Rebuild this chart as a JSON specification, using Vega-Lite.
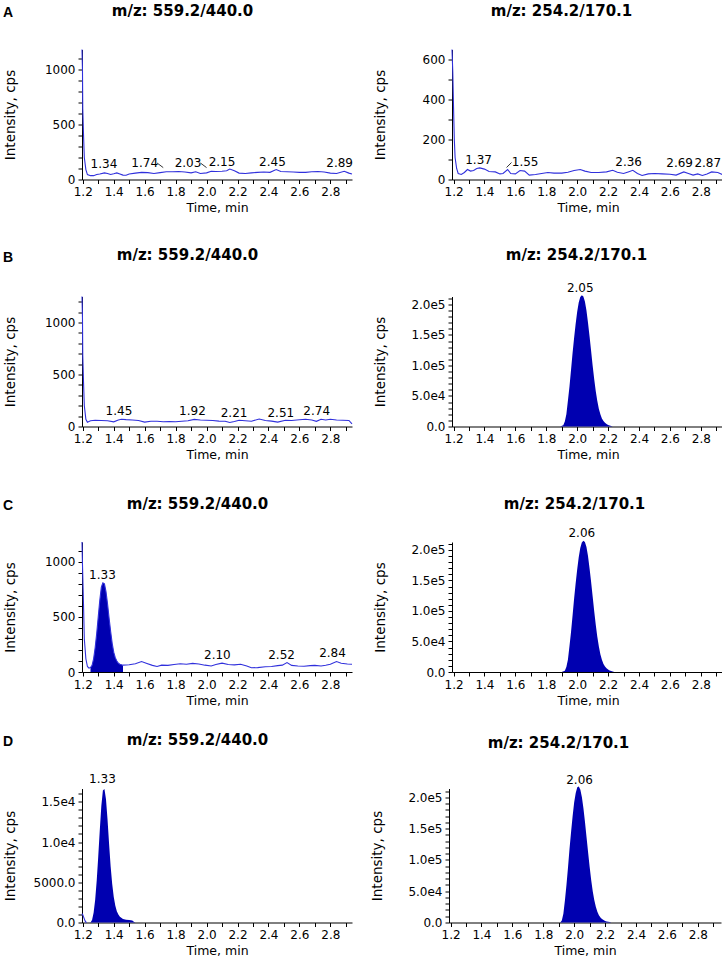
{
  "$schema": "https://vega.github.io/schema/vega-lite/v6.json",
  "padding": {"left": 3, "top": 2.5, "right": 0, "bottom": 0},
  "background": "white",
  "config": {
    "view": {"stroke": null},
    "axis": {"grid": false, "labelFont": "DejaVu Sans", "labelFontSize": 12, "labelColor": "#000", "titleFont": "DejaVu Sans", "titleFontWeight": "normal", "titleColor": "#000", "domainColor": "#000", "tickColor": "#000", "tickSize": 4, "labelPadding": 3, "labelOverlap": false, "labelFlush": false},
    "axisY": {"minExtent": 52, "maxExtent": 52, "titlePadding": 13, "titleFontSize": 13.5},
    "axisBottom": {"titleFontSize": 12.5, "titlePadding": 4},
    "axisTop": {"labels": false, "ticks": false, "domain": false, "titleFontSize": 15, "titleFontWeight": "bold", "minExtent": 0, "maxExtent": 0},
    "title": {"font": "Liberation Sans", "fontSize": 14, "fontWeight": "bold", "anchor": "start", "baseline": "bottom", "color": "#000"},
    "text": {"font": "DejaVu Sans", "fontSize": 12, "color": "#000"}
  },
  "datasets": {
    "line": [
      {"p":"A1","t":1.195,"v":1180},{"p":"A1","t":1.198,"v":1000},{"p":"A1","t":1.2,"v":640},{"p":"A1","t":1.205,"v":400},{"p":"A1","t":1.21,"v":200},{"p":"A1","t":1.22,"v":90},{"p":"A1","t":1.23,"v":45},{"p":"A1","t":1.25,"v":35},{"p":"A1","t":1.27,"v":35},{"p":"A1","t":1.29,"v":45},{"p":"A1","t":1.31,"v":50},{"p":"A1","t":1.34,"v":60},{"p":"A1","t":1.36,"v":55},{"p":"A1","t":1.38,"v":45},{"p":"A1","t":1.4,"v":52},{"p":"A1","t":1.42,"v":60},{"p":"A1","t":1.44,"v":50},{"p":"A1","t":1.46,"v":40},{"p":"A1","t":1.48,"v":38},{"p":"A1","t":1.5,"v":50},{"p":"A1","t":1.54,"v":58},{"p":"A1","t":1.58,"v":65},{"p":"A1","t":1.62,"v":62},{"p":"A1","t":1.66,"v":55},{"p":"A1","t":1.7,"v":62},{"p":"A1","t":1.74,"v":70},{"p":"A1","t":1.78,"v":70},{"p":"A1","t":1.82,"v":72},{"p":"A1","t":1.86,"v":68},{"p":"A1","t":1.9,"v":60},{"p":"A1","t":1.93,"v":70},{"p":"A1","t":1.96,"v":55},{"p":"A1","t":2.0,"v":60},{"p":"A1","t":2.03,"v":75},{"p":"A1","t":2.06,"v":72},{"p":"A1","t":2.1,"v":75},{"p":"A1","t":2.13,"v":80},{"p":"A1","t":2.15,"v":95},{"p":"A1","t":2.18,"v":80},{"p":"A1","t":2.21,"v":58},{"p":"A1","t":2.25,"v":55},{"p":"A1","t":2.29,"v":60},{"p":"A1","t":2.33,"v":65},{"p":"A1","t":2.37,"v":68},{"p":"A1","t":2.41,"v":65},{"p":"A1","t":2.45,"v":90},{"p":"A1","t":2.48,"v":72},{"p":"A1","t":2.52,"v":70},{"p":"A1","t":2.56,"v":68},{"p":"A1","t":2.6,"v":65},{"p":"A1","t":2.64,"v":65},{"p":"A1","t":2.68,"v":70},{"p":"A1","t":2.72,"v":72},{"p":"A1","t":2.76,"v":68},{"p":"A1","t":2.8,"v":58},{"p":"A1","t":2.84,"v":55},{"p":"A1","t":2.89,"v":75},{"p":"A1","t":2.92,"v":58},{"p":"A1","t":2.94,"v":50},
      {"p":"A2","t":1.19,"v":650},{"p":"A2","t":1.195,"v":540},{"p":"A2","t":1.2,"v":360},{"p":"A2","t":1.205,"v":200},{"p":"A2","t":1.21,"v":110},{"p":"A2","t":1.22,"v":55},{"p":"A2","t":1.23,"v":30},{"p":"A2","t":1.25,"v":25},{"p":"A2","t":1.27,"v":35},{"p":"A2","t":1.29,"v":50},{"p":"A2","t":1.31,"v":42},{"p":"A2","t":1.33,"v":45},{"p":"A2","t":1.35,"v":55},{"p":"A2","t":1.37,"v":58},{"p":"A2","t":1.4,"v":52},{"p":"A2","t":1.43,"v":40},{"p":"A2","t":1.47,"v":38},{"p":"A2","t":1.5,"v":28},{"p":"A2","t":1.52,"v":30},{"p":"A2","t":1.55,"v":50},{"p":"A2","t":1.57,"v":30},{"p":"A2","t":1.6,"v":28},{"p":"A2","t":1.63,"v":45},{"p":"A2","t":1.66,"v":42},{"p":"A2","t":1.69,"v":22},{"p":"A2","t":1.73,"v":25},{"p":"A2","t":1.77,"v":30},{"p":"A2","t":1.81,"v":35},{"p":"A2","t":1.85,"v":32},{"p":"A2","t":1.9,"v":32},{"p":"A2","t":1.94,"v":36},{"p":"A2","t":1.98,"v":45},{"p":"A2","t":2.02,"v":50},{"p":"A2","t":2.05,"v":42},{"p":"A2","t":2.09,"v":35},{"p":"A2","t":2.14,"v":35},{"p":"A2","t":2.19,"v":38},{"p":"A2","t":2.23,"v":46},{"p":"A2","t":2.26,"v":36},{"p":"A2","t":2.3,"v":30},{"p":"A2","t":2.33,"v":38},{"p":"A2","t":2.36,"v":46},{"p":"A2","t":2.39,"v":30},{"p":"A2","t":2.42,"v":20},{"p":"A2","t":2.46,"v":28},{"p":"A2","t":2.5,"v":30},{"p":"A2","t":2.55,"v":28},{"p":"A2","t":2.6,"v":26},{"p":"A2","t":2.64,"v":22},{"p":"A2","t":2.69,"v":38},{"p":"A2","t":2.72,"v":30},{"p":"A2","t":2.75,"v":22},{"p":"A2","t":2.78,"v":28},{"p":"A2","t":2.81,"v":20},{"p":"A2","t":2.84,"v":28},{"p":"A2","t":2.87,"v":38},{"p":"A2","t":2.91,"v":35},{"p":"A2","t":2.94,"v":25},{"p":"A2","t":2.95,"v":15},
      {"p":"B1","t":1.195,"v":1250},{"p":"B1","t":1.198,"v":1050},{"p":"B1","t":1.2,"v":680},{"p":"B1","t":1.205,"v":420},{"p":"B1","t":1.21,"v":200},{"p":"B1","t":1.22,"v":70},{"p":"B1","t":1.23,"v":40},{"p":"B1","t":1.25,"v":55},{"p":"B1","t":1.28,"v":60},{"p":"B1","t":1.32,"v":58},{"p":"B1","t":1.36,"v":55},{"p":"B1","t":1.4,"v":45},{"p":"B1","t":1.43,"v":62},{"p":"B1","t":1.45,"v":70},{"p":"B1","t":1.48,"v":66},{"p":"B1","t":1.52,"v":62},{"p":"B1","t":1.56,"v":58},{"p":"B1","t":1.6,"v":42},{"p":"B1","t":1.64,"v":50},{"p":"B1","t":1.68,"v":50},{"p":"B1","t":1.72,"v":46},{"p":"B1","t":1.76,"v":48},{"p":"B1","t":1.8,"v":45},{"p":"B1","t":1.84,"v":50},{"p":"B1","t":1.88,"v":55},{"p":"B1","t":1.92,"v":68},{"p":"B1","t":1.96,"v":62},{"p":"B1","t":2.0,"v":60},{"p":"B1","t":2.04,"v":58},{"p":"B1","t":2.08,"v":52},{"p":"B1","t":2.12,"v":50},{"p":"B1","t":2.15,"v":38},{"p":"B1","t":2.18,"v":48},{"p":"B1","t":2.21,"v":60},{"p":"B1","t":2.25,"v":55},{"p":"B1","t":2.29,"v":50},{"p":"B1","t":2.34,"v":72},{"p":"B1","t":2.38,"v":58},{"p":"B1","t":2.42,"v":52},{"p":"B1","t":2.46,"v":42},{"p":"B1","t":2.51,"v":60},{"p":"B1","t":2.55,"v":58},{"p":"B1","t":2.6,"v":65},{"p":"B1","t":2.64,"v":70},{"p":"B1","t":2.68,"v":62},{"p":"B1","t":2.71,"v":50},{"p":"B1","t":2.74,"v":70},{"p":"B1","t":2.77,"v":62},{"p":"B1","t":2.8,"v":70},{"p":"B1","t":2.84,"v":62},{"p":"B1","t":2.88,"v":60},{"p":"B1","t":2.92,"v":58},{"p":"B1","t":2.94,"v":25},
      {"p":"C1","t":1.195,"v":1180},{"p":"C1","t":1.198,"v":980},{"p":"C1","t":1.205,"v":600},{"p":"C1","t":1.21,"v":300},{"p":"C1","t":1.22,"v":120},{"p":"C1","t":1.23,"v":50},{"p":"C1","t":1.24,"v":35},{"p":"C1","t":1.25,"v":40},{"p":"C1","t":1.26,"v":60},{"p":"C1","t":1.27,"v":120},{"p":"C1","t":1.28,"v":220},{"p":"C1","t":1.29,"v":350},{"p":"C1","t":1.3,"v":500},{"p":"C1","t":1.31,"v":650},{"p":"C1","t":1.32,"v":770},{"p":"C1","t":1.33,"v":810},{"p":"C1","t":1.34,"v":800},{"p":"C1","t":1.35,"v":730},{"p":"C1","t":1.36,"v":620},{"p":"C1","t":1.37,"v":490},{"p":"C1","t":1.38,"v":370},{"p":"C1","t":1.39,"v":260},{"p":"C1","t":1.4,"v":180},{"p":"C1","t":1.41,"v":130},{"p":"C1","t":1.42,"v":100},{"p":"C1","t":1.43,"v":80},{"p":"C1","t":1.44,"v":70},{"p":"C1","t":1.46,"v":62},{"p":"C1","t":1.5,"v":66},{"p":"C1","t":1.54,"v":75},{"p":"C1","t":1.58,"v":95},{"p":"C1","t":1.61,"v":80},{"p":"C1","t":1.65,"v":60},{"p":"C1","t":1.68,"v":50},{"p":"C1","t":1.71,"v":62},{"p":"C1","t":1.75,"v":60},{"p":"C1","t":1.79,"v":68},{"p":"C1","t":1.83,"v":75},{"p":"C1","t":1.87,"v":70},{"p":"C1","t":1.91,"v":78},{"p":"C1","t":1.95,"v":72},{"p":"C1","t":1.99,"v":62},{"p":"C1","t":2.03,"v":55},{"p":"C1","t":2.06,"v":68},{"p":"C1","t":2.1,"v":80},{"p":"C1","t":2.14,"v":68},{"p":"C1","t":2.18,"v":65},{"p":"C1","t":2.22,"v":70},{"p":"C1","t":2.26,"v":55},{"p":"C1","t":2.29,"v":38},{"p":"C1","t":2.33,"v":40},{"p":"C1","t":2.38,"v":48},{"p":"C1","t":2.42,"v":50},{"p":"C1","t":2.46,"v":58},{"p":"C1","t":2.49,"v":62},{"p":"C1","t":2.52,"v":85},{"p":"C1","t":2.55,"v":60},{"p":"C1","t":2.59,"v":55},{"p":"C1","t":2.63,"v":52},{"p":"C1","t":2.67,"v":58},{"p":"C1","t":2.7,"v":60},{"p":"C1","t":2.74,"v":55},{"p":"C1","t":2.77,"v":62},{"p":"C1","t":2.8,"v":70},{"p":"C1","t":2.84,"v":95},{"p":"C1","t":2.87,"v":80},{"p":"C1","t":2.91,"v":72},{"p":"C1","t":2.94,"v":70},
      {"p":"D1","t":1.195,"v":1100},{"p":"D1","t":1.2,"v":950},{"p":"D1","t":1.205,"v":700},{"p":"D1","t":1.21,"v":450},{"p":"D1","t":1.215,"v":200},{"p":"D1","t":1.22,"v":60},{"p":"D1","t":1.225,"v":0}
    ],
    "fill": [
      {"p":"C1","t":1.25,"v":40},{"p":"C1","t":1.26,"v":60},{"p":"C1","t":1.27,"v":120},{"p":"C1","t":1.28,"v":220},{"p":"C1","t":1.29,"v":350},{"p":"C1","t":1.3,"v":500},{"p":"C1","t":1.31,"v":650},{"p":"C1","t":1.32,"v":770},{"p":"C1","t":1.33,"v":810},{"p":"C1","t":1.34,"v":800},{"p":"C1","t":1.35,"v":730},{"p":"C1","t":1.36,"v":620},{"p":"C1","t":1.37,"v":490},{"p":"C1","t":1.38,"v":370},{"p":"C1","t":1.39,"v":260},{"p":"C1","t":1.4,"v":180},{"p":"C1","t":1.41,"v":130},{"p":"C1","t":1.42,"v":100},{"p":"C1","t":1.43,"v":80},{"p":"C1","t":1.44,"v":70},{"p":"C1","t":1.45,"v":65},{"p":"C1","t":1.46,"v":60},
      {"p":"D1","t":1.25,"v":0},{"p":"D1","t":1.26,"v":300},{"p":"D1","t":1.27,"v":1200},{"p":"D1","t":1.28,"v":2800},{"p":"D1","t":1.29,"v":5200},{"p":"D1","t":1.3,"v":8200},{"p":"D1","t":1.31,"v":11500},{"p":"D1","t":1.32,"v":14500},{"p":"D1","t":1.33,"v":16400},{"p":"D1","t":1.34,"v":16600},{"p":"D1","t":1.35,"v":15300},{"p":"D1","t":1.36,"v":12800},{"p":"D1","t":1.37,"v":9800},{"p":"D1","t":1.38,"v":7000},{"p":"D1","t":1.39,"v":4800},{"p":"D1","t":1.4,"v":3200},{"p":"D1","t":1.41,"v":2100},{"p":"D1","t":1.42,"v":1400},{"p":"D1","t":1.43,"v":1000},{"p":"D1","t":1.44,"v":700},{"p":"D1","t":1.46,"v":450},{"p":"D1","t":1.48,"v":350},{"p":"D1","t":1.5,"v":300},{"p":"D1","t":1.52,"v":250},{"p":"D1","t":1.53,"v":100},{"p":"D1","t":1.54,"v":0},
      {"p":"B2","t":1.89,"v":0},{"p":"B2","t":1.91,"v":2000},{"p":"B2","t":1.92,"v":8000},{"p":"B2","t":1.93,"v":20000},{"p":"B2","t":1.94,"v":42000},{"p":"B2","t":1.95,"v":65000},{"p":"B2","t":1.96,"v":92000},{"p":"B2","t":1.97,"v":120000},{"p":"B2","t":1.98,"v":145000},{"p":"B2","t":1.99,"v":168000},{"p":"B2","t":2.0,"v":188000},{"p":"B2","t":2.01,"v":203000},{"p":"B2","t":2.02,"v":212000},{"p":"B2","t":2.03,"v":215000},{"p":"B2","t":2.04,"v":213000},{"p":"B2","t":2.05,"v":205000},{"p":"B2","t":2.06,"v":190000},{"p":"B2","t":2.07,"v":170000},{"p":"B2","t":2.08,"v":148000},{"p":"B2","t":2.09,"v":124000},{"p":"B2","t":2.1,"v":100000},{"p":"B2","t":2.11,"v":78000},{"p":"B2","t":2.12,"v":58000},{"p":"B2","t":2.13,"v":42000},{"p":"B2","t":2.14,"v":29000},{"p":"B2","t":2.15,"v":20000},{"p":"B2","t":2.16,"v":13000},{"p":"B2","t":2.17,"v":9000},{"p":"B2","t":2.18,"v":6000},{"p":"B2","t":2.19,"v":4000},{"p":"B2","t":2.2,"v":2500},{"p":"B2","t":2.21,"v":1500},{"p":"B2","t":2.22,"v":800},{"p":"B2","t":2.23,"v":0},
      {"p":"C2","t":1.9,"v":0},{"p":"C2","t":1.92,"v":2000},{"p":"C2","t":1.93,"v":8000},{"p":"C2","t":1.94,"v":20000},{"p":"C2","t":1.95,"v":42000},{"p":"C2","t":1.96,"v":65000},{"p":"C2","t":1.97,"v":92000},{"p":"C2","t":1.98,"v":120000},{"p":"C2","t":1.99,"v":145000},{"p":"C2","t":2.0,"v":168000},{"p":"C2","t":2.01,"v":188000},{"p":"C2","t":2.02,"v":203000},{"p":"C2","t":2.03,"v":212000},{"p":"C2","t":2.04,"v":215000},{"p":"C2","t":2.05,"v":213000},{"p":"C2","t":2.06,"v":205000},{"p":"C2","t":2.07,"v":190000},{"p":"C2","t":2.08,"v":170000},{"p":"C2","t":2.09,"v":148000},{"p":"C2","t":2.1,"v":124000},{"p":"C2","t":2.11,"v":100000},{"p":"C2","t":2.12,"v":78000},{"p":"C2","t":2.13,"v":58000},{"p":"C2","t":2.14,"v":42000},{"p":"C2","t":2.15,"v":29000},{"p":"C2","t":2.16,"v":20000},{"p":"C2","t":2.17,"v":13000},{"p":"C2","t":2.18,"v":9000},{"p":"C2","t":2.19,"v":6000},{"p":"C2","t":2.2,"v":4000},{"p":"C2","t":2.21,"v":2500},{"p":"C2","t":2.22,"v":1500},{"p":"C2","t":2.23,"v":800},{"p":"C2","t":2.24,"v":0},
      {"p":"D2","t":1.91,"v":0},{"p":"D2","t":1.92,"v":3000},{"p":"D2","t":1.93,"v":14000},{"p":"D2","t":1.94,"v":35000},{"p":"D2","t":1.95,"v":60000},{"p":"D2","t":1.96,"v":88000},{"p":"D2","t":1.97,"v":118000},{"p":"D2","t":1.98,"v":145000},{"p":"D2","t":1.99,"v":170000},{"p":"D2","t":2.0,"v":192000},{"p":"D2","t":2.01,"v":207000},{"p":"D2","t":2.02,"v":216000},{"p":"D2","t":2.03,"v":217000},{"p":"D2","t":2.04,"v":212000},{"p":"D2","t":2.05,"v":200000},{"p":"D2","t":2.06,"v":182000},{"p":"D2","t":2.07,"v":160000},{"p":"D2","t":2.08,"v":136000},{"p":"D2","t":2.09,"v":112000},{"p":"D2","t":2.1,"v":89000},{"p":"D2","t":2.11,"v":68000},{"p":"D2","t":2.12,"v":50000},{"p":"D2","t":2.13,"v":36000},{"p":"D2","t":2.14,"v":25000},{"p":"D2","t":2.15,"v":17000},{"p":"D2","t":2.16,"v":11500},{"p":"D2","t":2.17,"v":8000},{"p":"D2","t":2.18,"v":5500},{"p":"D2","t":2.19,"v":3800},{"p":"D2","t":2.2,"v":2500},{"p":"D2","t":2.21,"v":1700},{"p":"D2","t":2.22,"v":1100},{"p":"D2","t":2.23,"v":600},{"p":"D2","t":2.24,"v":0}
    ],
    "lab": [
      {"p":"A1","t":1.337,"v":102,"s":"1.34"},{"p":"A1","t":1.6,"v":113,"s":"1.74"},{"p":"A1","t":1.88,"v":113,"s":"2.03"},{"p":"A1","t":2.1,"v":125,"s":"2.15"},{"p":"A1","t":2.426,"v":125,"s":"2.45"},{"p":"A1","t":2.86,"v":111,"s":"2.89"},
      {"p":"A2","t":1.362,"v":78,"s":"1.37"},{"p":"A2","t":1.663,"v":69,"s":"1.55"},{"p":"A2","t":2.333,"v":69,"s":"2.36"},{"p":"A2","t":2.663,"v":61,"s":"2.69"},{"p":"A2","t":2.845,"v":61,"s":"2.87"},
      {"p":"B1","t":1.434,"v":114,"s":"1.45"},{"p":"B1","t":1.909,"v":114,"s":"1.92"},{"p":"B1","t":2.178,"v":91,"s":"2.21"},{"p":"B1","t":2.48,"v":91,"s":"2.51"},{"p":"B1","t":2.712,"v":114,"s":"2.74"},
      {"p":"B2","t":2.02,"v":220000,"s":"2.05"},
      {"p":"C1","t":1.327,"v":846,"s":"1.33"},{"p":"C1","t":2.07,"v":120,"s":"2.10"},{"p":"C1","t":2.485,"v":120,"s":"2.52"},{"p":"C1","t":2.814,"v":134,"s":"2.84"},
      {"p":"C2","t":2.03,"v":222000,"s":"2.06"},
      {"p":"D1","t":1.327,"v":17390,"s":"1.33"},
      {"p":"D2","t":2.035,"v":220700,"s":"2.06"}
    ],
    "lead": [
      {"p":"A1","t":1.68,"v":150,"t2":1.72,"v2":108},
      {"p":"A1","t":1.96,"v":150,"t2":2.0,"v2":108},
      {"p":"A2","t":1.543,"v":60,"t2":1.575,"v2":85}
    ]
  },
  "spacing": 33,
  "vconcat": [
    {
      "title": {"text": "A", "offset": -17},
      "spacing": 18,
      "hconcat": [
        {
          "width": 270, "height": 130,
          "encoding": {"y": {"field": "v", "type": "quantitative", "scale": {"domain": [0, 1180], "nice": false}, "axis": {"title": "Intensity, cps", "values": [0,100,200,300,400,500,600,700,800,900,1000,1100], "labelExpr": "datum.value % 500 == 0 ? format(datum.value, 'd') : ''"}}},
          "layer": [
            {"data": {"name": "fill"}, "transform": [{"filter": "datum.p == 'A1'"}], "mark": {"type": "area", "color": "#0000b0"}, "encoding": {"x": {"field": "t", "type": "quantitative", "scale": {"domain": [1.195, 2.94], "nice": false, "zero": false}, "axis": null}}},
            {"data": {"name": "line"}, "transform": [{"filter": "datum.p == 'A1'"}], "mark": {"type": "line", "color": "#3030dc", "strokeWidth": 1.1}, "encoding": {"x": {"field": "t", "type": "quantitative", "scale": {"domain": [1.195, 2.94], "nice": false, "zero": false}, "axis": {"title": "Time, min", "values": [1.2,1.3,1.4,1.5,1.6,1.7,1.8,1.9,2.0,2.1,2.2,2.3,2.4,2.5,2.6,2.7,2.8,2.9], "labelExpr": "round(datum.value * 10) % 2 == 0 ? format(datum.value, '.1f') : ''"}}}},
            {"data": {"name": "lead"}, "transform": [{"filter": "datum.p == 'A1'"}], "mark": {"type": "rule", "color": "#000", "strokeWidth": 0.8}, "encoding": {"x": {"field": "t", "type": "quantitative", "scale": {"domain": [1.195, 2.94], "nice": false, "zero": false}, "axis": null}, "x2": {"field": "t2"}, "y2": {"field": "v2"}}},
            {"data": {"name": "lab"}, "transform": [{"filter": "datum.p == 'A1'"}], "mark": {"type": "text", "baseline": "alphabetic"}, "encoding": {"x": {"field": "t", "type": "quantitative", "scale": {"domain": [1.195, 2.94], "nice": false, "zero": false}, "axis": {"orient": "top", "title": "m/z: 559.2/440.0", "titlePadding": 31.5, "titleX": 100}}, "text": {"field": "s"}}}
          ],
          "resolve": {"axis": {"x": "independent"}}
        },
        {
          "width": 272, "height": 130,
          "encoding": {"y": {"field": "v", "type": "quantitative", "scale": {"domain": [0, 650], "nice": false}, "axis": {"title": "Intensity, cps", "values": [0,100,200,300,400,500,600], "labelExpr": "datum.value % 200 == 0 ? format(datum.value, 'd') : ''"}}},
          "layer": [
            {"data": {"name": "fill"}, "transform": [{"filter": "datum.p == 'A2'"}], "mark": {"type": "area", "color": "#0000b0"}, "encoding": {"x": {"field": "t", "type": "quantitative", "scale": {"domain": [1.19, 2.95], "nice": false, "zero": false}, "axis": null}}},
            {"data": {"name": "line"}, "transform": [{"filter": "datum.p == 'A2'"}], "mark": {"type": "line", "color": "#3030dc", "strokeWidth": 1.1}, "encoding": {"x": {"field": "t", "type": "quantitative", "scale": {"domain": [1.19, 2.95], "nice": false, "zero": false}, "axis": {"title": "Time, min", "values": [1.2,1.3,1.4,1.5,1.6,1.7,1.8,1.9,2.0,2.1,2.2,2.3,2.4,2.5,2.6,2.7,2.8,2.9], "labelExpr": "round(datum.value * 10) % 2 == 0 ? format(datum.value, '.1f') : ''"}}}},
            {"data": {"name": "lead"}, "transform": [{"filter": "datum.p == 'A2'"}], "mark": {"type": "rule", "color": "#000", "strokeWidth": 0.8}, "encoding": {"x": {"field": "t", "type": "quantitative", "scale": {"domain": [1.19, 2.95], "nice": false, "zero": false}, "axis": null}, "x2": {"field": "t2"}, "y2": {"field": "v2"}}},
            {"data": {"name": "lab"}, "transform": [{"filter": "datum.p == 'A2'"}], "mark": {"type": "text", "baseline": "alphabetic"}, "encoding": {"x": {"field": "t", "type": "quantitative", "scale": {"domain": [1.19, 2.95], "nice": false, "zero": false}, "axis": {"orient": "top", "title": "m/z: 254.2/170.1", "titlePadding": 31.5, "titleX": 109}}, "text": {"field": "s"}}}
          ],
          "resolve": {"axis": {"x": "independent"}}
        }
      ]
    },
    {
      "spacing": 34.5,
      "vconcat": [
        {
          "title": {"text": "B", "offset": -17},
          "spacing": 18,
          "hconcat": [
            {
              "width": 270, "height": 130,
              "encoding": {"y": {"field": "v", "type": "quantitative", "scale": {"domain": [0, 1250], "nice": false}, "axis": {"title": "Intensity, cps", "values": [0,100,200,300,400,500,600,700,800,900,1000,1100,1200], "labelExpr": "datum.value % 500 == 0 ? format(datum.value, 'd') : ''"}}},
              "layer": [
                {"data": {"name": "fill"}, "transform": [{"filter": "datum.p == 'B1'"}], "mark": {"type": "area", "color": "#0000b0"}, "encoding": {"x": {"field": "t", "type": "quantitative", "scale": {"domain": [1.195, 2.94], "nice": false, "zero": false}, "axis": null}}},
                {"data": {"name": "line"}, "transform": [{"filter": "datum.p == 'B1'"}], "mark": {"type": "line", "color": "#3030dc", "strokeWidth": 1.1}, "encoding": {"x": {"field": "t", "type": "quantitative", "scale": {"domain": [1.195, 2.94], "nice": false, "zero": false}, "axis": {"title": "Time, min", "values": [1.2,1.3,1.4,1.5,1.6,1.7,1.8,1.9,2.0,2.1,2.2,2.3,2.4,2.5,2.6,2.7,2.8,2.9], "labelExpr": "round(datum.value * 10) % 2 == 0 ? format(datum.value, '.1f') : ''"}}}},
                {"data": {"name": "lab"}, "transform": [{"filter": "datum.p == 'B1'"}], "mark": {"type": "text", "baseline": "alphabetic"}, "encoding": {"x": {"field": "t", "type": "quantitative", "scale": {"domain": [1.195, 2.94], "nice": false, "zero": false}, "axis": {"orient": "top", "title": "m/z: 559.2/440.0", "titlePadding": 34, "titleX": 105}}, "text": {"field": "s"}}}
              ],
              "resolve": {"axis": {"x": "independent"}}
            },
            {
              "width": 272, "height": 130,
              "encoding": {"y": {"field": "v", "type": "quantitative", "scale": {"domain": [0, 213000], "nice": false}, "axis": {"title": "Intensity, cps", "values": [0,10000,20000,30000,40000,50000,60000,70000,80000,90000,100000,110000,120000,130000,140000,150000,160000,170000,180000,190000,200000,210000], "labelExpr": "datum.value % 50000 == 0 ? (datum.value == 0 ? '0.0' : replace(format(datum.value, '.1e'), 'e+', 'e')) : ''"}}},
              "layer": [
                {"data": {"name": "fill"}, "transform": [{"filter": "datum.p == 'B2'"}], "mark": {"type": "area", "color": "#0000b0"}, "encoding": {"x": {"field": "t", "type": "quantitative", "scale": {"domain": [1.19, 2.95], "nice": false, "zero": false}, "axis": null}}},
                {"data": {"name": "line"}, "transform": [{"filter": "datum.p == 'B2'"}], "mark": {"type": "line", "color": "#3030dc", "strokeWidth": 1.1}, "encoding": {"x": {"field": "t", "type": "quantitative", "scale": {"domain": [1.19, 2.95], "nice": false, "zero": false}, "axis": {"title": "Time, min", "values": [1.2,1.3,1.4,1.5,1.6,1.7,1.8,1.9,2.0,2.1,2.2,2.3,2.4,2.5,2.6,2.7,2.8,2.9], "labelExpr": "round(datum.value * 10) % 2 == 0 ? format(datum.value, '.1f') : ''"}}}},
                {"data": {"name": "lab"}, "transform": [{"filter": "datum.p == 'B2'"}], "mark": {"type": "text", "baseline": "alphabetic"}, "encoding": {"x": {"field": "t", "type": "quantitative", "scale": {"domain": [1.19, 2.95], "nice": false, "zero": false}, "axis": {"orient": "top", "title": "m/z: 254.2/170.1", "titlePadding": 34, "titleX": 124}}, "text": {"field": "s"}}}
              ],
              "resolve": {"axis": {"x": "independent"}}
            }
          ]
        },
        {
          "spacing": 24.5,
          "vconcat": [
            {
              "title": {"text": "C", "offset": -17},
              "spacing": 18,
              "hconcat": [
                {
                  "width": 270, "height": 130,
                  "encoding": {"y": {"field": "v", "type": "quantitative", "scale": {"domain": [0, 1180], "nice": false}, "axis": {"title": "Intensity, cps", "values": [0,100,200,300,400,500,600,700,800,900,1000,1100], "labelExpr": "datum.value % 500 == 0 ? format(datum.value, 'd') : ''"}}},
                  "layer": [
                    {"data": {"name": "fill"}, "transform": [{"filter": "datum.p == 'C1'"}], "mark": {"type": "area", "color": "#0000b0"}, "encoding": {"x": {"field": "t", "type": "quantitative", "scale": {"domain": [1.195, 2.94], "nice": false, "zero": false}, "axis": null}}},
                    {"data": {"name": "line"}, "transform": [{"filter": "datum.p == 'C1'"}], "mark": {"type": "line", "color": "#3030dc", "strokeWidth": 1.1}, "encoding": {"x": {"field": "t", "type": "quantitative", "scale": {"domain": [1.195, 2.94], "nice": false, "zero": false}, "axis": {"title": "Time, min", "values": [1.2,1.3,1.4,1.5,1.6,1.7,1.8,1.9,2.0,2.1,2.2,2.3,2.4,2.5,2.6,2.7,2.8,2.9], "labelExpr": "round(datum.value * 10) % 2 == 0 ? format(datum.value, '.1f') : ''"}}}},
                    {"data": {"name": "lab"}, "transform": [{"filter": "datum.p == 'C1'"}], "mark": {"type": "text", "baseline": "alphabetic"}, "encoding": {"x": {"field": "t", "type": "quantitative", "scale": {"domain": [1.195, 2.94], "nice": false, "zero": false}, "axis": {"orient": "top", "title": "m/z: 559.2/440.0", "titlePadding": 31, "titleX": 115}}, "text": {"field": "s"}}}
                  ],
                  "resolve": {"axis": {"x": "independent"}}
                },
                {
                  "width": 272, "height": 130,
                  "encoding": {"y": {"field": "v", "type": "quantitative", "scale": {"domain": [0, 213000], "nice": false}, "axis": {"title": "Intensity, cps", "values": [0,10000,20000,30000,40000,50000,60000,70000,80000,90000,100000,110000,120000,130000,140000,150000,160000,170000,180000,190000,200000,210000], "labelExpr": "datum.value % 50000 == 0 ? (datum.value == 0 ? '0.0' : replace(format(datum.value, '.1e'), 'e+', 'e')) : ''"}}},
                  "layer": [
                    {"data": {"name": "fill"}, "transform": [{"filter": "datum.p == 'C2'"}], "mark": {"type": "area", "color": "#0000b0"}, "encoding": {"x": {"field": "t", "type": "quantitative", "scale": {"domain": [1.19, 2.95], "nice": false, "zero": false}, "axis": null}}},
                    {"data": {"name": "line"}, "transform": [{"filter": "datum.p == 'C2'"}], "mark": {"type": "line", "color": "#3030dc", "strokeWidth": 1.1}, "encoding": {"x": {"field": "t", "type": "quantitative", "scale": {"domain": [1.19, 2.95], "nice": false, "zero": false}, "axis": {"title": "Time, min", "values": [1.2,1.3,1.4,1.5,1.6,1.7,1.8,1.9,2.0,2.1,2.2,2.3,2.4,2.5,2.6,2.7,2.8,2.9], "labelExpr": "round(datum.value * 10) % 2 == 0 ? format(datum.value, '.1f') : ''"}}}},
                    {"data": {"name": "lab"}, "transform": [{"filter": "datum.p == 'C2'"}], "mark": {"type": "text", "baseline": "alphabetic"}, "encoding": {"x": {"field": "t", "type": "quantitative", "scale": {"domain": [1.19, 2.95], "nice": false, "zero": false}, "axis": {"orient": "top", "title": "m/z: 254.2/170.1", "titlePadding": 31, "titleX": 122}}, "text": {"field": "s"}}}
                  ],
                  "resolve": {"axis": {"x": "independent"}}
                }
              ]
            },
            {
              "title": {"text": "D", "offset": -17},
              "spacing": 18,
              "hconcat": [
                {
                  "width": 270, "height": 134,
                  "encoding": {"y": {"field": "v", "type": "quantitative", "scale": {"domain": [0, 16650], "nice": false}, "axis": {"title": "Intensity, cps", "values": [0,1000,2000,3000,4000,5000,6000,7000,8000,9000,10000,11000,12000,13000,14000,15000,16000], "labelExpr": "datum.value % 5000 == 0 ? (datum.value < 10000 ? format(datum.value, '.1f') : replace(format(datum.value, '.1e'), 'e+', 'e')) : ''"}}},
                  "layer": [
                    {"data": {"name": "fill"}, "transform": [{"filter": "datum.p == 'D1'"}], "mark": {"type": "area", "color": "#0000b0"}, "encoding": {"x": {"field": "t", "type": "quantitative", "scale": {"domain": [1.195, 2.94], "nice": false, "zero": false}, "axis": null}}},
                    {"data": {"name": "line"}, "transform": [{"filter": "datum.p == 'D1'"}], "mark": {"type": "line", "color": "#3030dc", "strokeWidth": 1.1}, "encoding": {"x": {"field": "t", "type": "quantitative", "scale": {"domain": [1.195, 2.94], "nice": false, "zero": false}, "axis": {"title": "Time, min", "values": [1.2,1.3,1.4,1.5,1.6,1.7,1.8,1.9,2.0,2.1,2.2,2.3,2.4,2.5,2.6,2.7,2.8,2.9], "labelExpr": "round(datum.value * 10) % 2 == 0 ? format(datum.value, '.1f') : ''"}}}},
                    {"data": {"name": "lab"}, "transform": [{"filter": "datum.p == 'D1'"}], "mark": {"type": "text", "baseline": "alphabetic"}, "encoding": {"x": {"field": "t", "type": "quantitative", "scale": {"domain": [1.195, 2.94], "nice": false, "zero": false}, "axis": {"orient": "top", "title": "m/z: 559.2/440.0", "titlePadding": 41.5, "titleX": 115}}, "text": {"field": "s"}}}
                  ],
                  "resolve": {"axis": {"x": "independent"}}
                },
                {
                  "width": 272, "height": 134,
                  "encoding": {"y": {"field": "v", "type": "quantitative", "scale": {"domain": [0, 214000], "nice": false}, "axis": {"title": "Intensity, cps", "values": [0,10000,20000,30000,40000,50000,60000,70000,80000,90000,100000,110000,120000,130000,140000,150000,160000,170000,180000,190000,200000,210000], "labelExpr": "datum.value % 50000 == 0 ? (datum.value == 0 ? '0.0' : replace(format(datum.value, '.1e'), 'e+', 'e')) : ''"}}},
                  "layer": [
                    {"data": {"name": "fill"}, "transform": [{"filter": "datum.p == 'D2'"}], "mark": {"type": "area", "color": "#0000b0"}, "encoding": {"x": {"field": "t", "type": "quantitative", "scale": {"domain": [1.19, 2.95], "nice": false, "zero": false}, "axis": null}}},
                    {"data": {"name": "line"}, "transform": [{"filter": "datum.p == 'D2'"}], "mark": {"type": "line", "color": "#3030dc", "strokeWidth": 1.1}, "encoding": {"x": {"field": "t", "type": "quantitative", "scale": {"domain": [1.19, 2.95], "nice": false, "zero": false}, "axis": {"title": "Time, min", "values": [1.2,1.3,1.4,1.5,1.6,1.7,1.8,1.9,2.0,2.1,2.2,2.3,2.4,2.5,2.6,2.7,2.8,2.9], "labelExpr": "round(datum.value * 10) % 2 == 0 ? format(datum.value, '.1f') : ''"}}}},
                    {"data": {"name": "lab"}, "transform": [{"filter": "datum.p == 'D2'"}], "mark": {"type": "text", "baseline": "alphabetic"}, "encoding": {"x": {"field": "t", "type": "quantitative", "scale": {"domain": [1.19, 2.95], "nice": false, "zero": false}, "axis": {"orient": "top", "title": "m/z: 254.2/170.1", "titlePadding": 38.5, "titleX": 109}}, "text": {"field": "s"}}}
                  ],
                  "resolve": {"axis": {"x": "independent"}}
                }
              ]
            }
          ]
        }
      ]
    }
  ]
}
